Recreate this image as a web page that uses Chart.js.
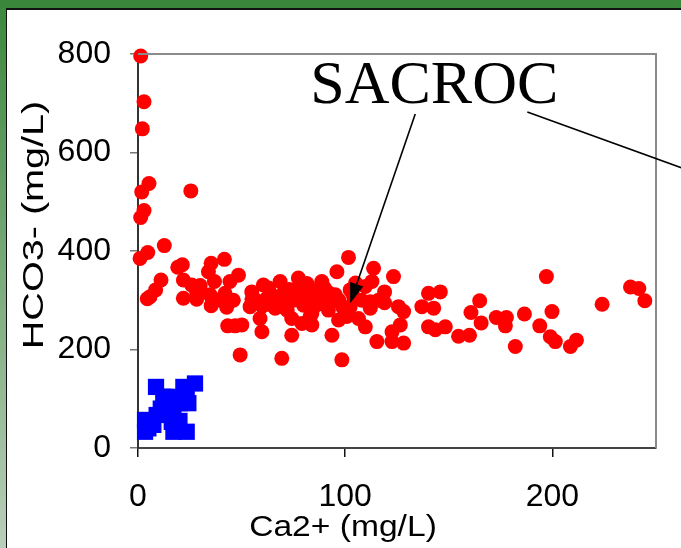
<!DOCTYPE html>
<html>
<head>
<meta charset="utf-8">
<script src="https://cdn.jsdelivr.net/npm/chart.js@4/dist/chart.umd.min.js"></script>
<style>
  html, body { margin: 0; padding: 0; }
  body {
    width: 681px; height: 548px; overflow: hidden; position: relative;
    background: linear-gradient(#3a873c, #b9ceb9);
  }
  #topband { position: absolute; left: 0; top: 0; width: 681px; height: 8px; background: #3a873c; }
  #panel {
    position: absolute; left: 6px; top: 8px; right: 0; bottom: 0;
    background: #fff; border-top: 2px solid #111; border-left: 1px solid #111;
  }
  #grafico { position: absolute; left: 0; top: 0; }
</style>
</head>
<body>
<div id="topband"></div>
<div id="panel"></div>
<canvas id="grafico" width="681" height="548"></canvas>
<script>
// SACROC produced water: Ca2+ vs HCO3- (mg/L)
const sacrocCa = [
  1.3, 2.9, 2.1, 5.3, 1.8, 25.5, 2.9, 1.3, 12.7, 4.7, 1,
  19.2, 21.4, 35.3, 41.7, 34, 11.1, 8.5, 4.5, 21.9, 25.9, 28.3,
  21.9, 28.3, 34.8, 36.9, 35.3, 42.8, 42, 44.4, 48.5, 43.3, 46.9, 49.3,
  101.6, 54.9, 60.5, 68.6, 77.4, 81.5, 88.7, 96, 95.2, 54.1, 62.2,
  66.2, 71, 76.7, 79.9, 87.9, 89.5, 74.2, 79.1, 83.9, 58.9, 50.1,
  59.8, 74.2, 93.6, 96.8, 69.4, 98.4, 85.5, 83.9,
  113.7, 123.3, 112.9, 109.7, 119, 102.4, 112.1, 112.1, 106.4, 109.7,
  100.8, 125.7, 128.2, 126.6, 122.6, 115.3, 122.6, 128.2,
  140.2, 145.9, 137, 142.7, 140.2, 143.5, 148.3, 154.7, 160, 160.7,
  164.9, 165.6, 172.9, 177.8, 177.3, 182.1, 186.5, 193.9, 197.1, 199.8,
  199, 201.4, 208.7, 211.6, 224, 237.7, 241.7, 244.6,
  64.6, 69.4, 86.3, 91.9, 83.1, 70.2, 63.9, 102.4, 5.8,
  57, 63, 67, 73, 75, 78, 82, 86, 90, 93, 97, 99, 104, 108,
  116, 119, 105, 72, 80, 92, 60, 55, 46, 38, 30
];
const sacrocHco3 = [
  796, 703, 648, 537, 520, 522, 482, 468, 411, 397, 385,
  367, 372, 375, 383, 358, 341, 321, 303, 341, 331, 317,
  304, 302, 311, 338, 289, 286, 314, 338, 351, 248, 248, 189,
  387, 317, 331, 338, 345, 334, 338, 358, 311, 287, 304,
  284, 297, 314, 290, 297, 311, 263, 253, 250, 263, 250,
  236, 229, 229, 260, 182, 179, 321, 273,
  365, 348, 338, 328, 317, 321, 297, 284, 263, 246,
  267, 287, 277, 250, 236, 216, 216, 213,
  314, 317, 287, 284, 246, 240, 246, 227, 229, 275,
  299, 254, 265, 265, 248, 206, 272, 248, 348, 277,
  226, 216, 206, 219, 292, 327, 324, 299,
  290, 287, 304, 280, 267, 314, 314, 287, 307,
  300, 325, 305, 322, 300, 330, 318, 290, 325, 295, 300, 285, 308, 300,
  300, 295, 335, 280, 305, 315, 288, 302, 300, 300, 330
];

// second group (blue squares)
const otroCa = [8.7, 27.5, 21.9, 3.4, 3.4, 9, 12.2, 17.1, 23.5, 17.1, 20.3, 24.3, 23.5, 13.9, 7.4, 16.3, 15.5, 5, 20, 11];
const otroHco3 = [124, 131, 124, 33, 57, 67, 104, 33, 33, 70, 91, 91, 111, 91, 47, 53, 104, 40, 55, 80];

const xTicks = [0, 100, 200];
const yTicks = [0, 200, 400, 600, 800];

const tituloX = "Ca2+ (mg/L)";
const tituloY = "HCO3- (mg/L)";
const etiqueta = "SACROC";

// callout: text anchor, arrow to the cluster, second leader line (data units)
const etiquetaPos = { x: 83.1, y: 700 };
const flecha = { x1: 133.8, y1: 678, x2: 102.4, y2: 294 };
const linea2 = { x1: 187.9, y1: 682, x2: 265, y2: 565 };

const toXY = (xs, ys) => xs.map((x, i) => ({ x: x, y: ys[i] }));

const fuente = "'Liberation Sans', Arial, sans-serif";

const decoracion = {
  id: "decoracion",
  afterDraw(chart) {
    const ctx = chart.ctx;
    const a = chart.chartArea;
    const sx = chart.scales.x, sy = chart.scales.y;
    ctx.save();

    // top and right frame of the plot
    ctx.strokeStyle = "#8a8a8a";
    ctx.lineWidth = 2;
    ctx.beginPath();
    ctx.moveTo(a.left, a.top);
    ctx.lineTo(a.right, a.top);
    ctx.lineTo(a.right, a.bottom);
    ctx.stroke();

    // axis titles
    ctx.fillStyle = "#000";
    ctx.font = "30px " + fuente;
    ctx.textAlign = "center";
    ctx.textBaseline = "alphabetic";
    ctx.save();
    ctx.translate(343, 536);
    ctx.scale(1.12, 1);
    ctx.fillText(tituloX, 0, 0);
    ctx.restore();

    ctx.save();
    ctx.translate(43, 225);
    ctx.rotate(-Math.PI / 2);
    ctx.scale(1.32, 1);
    ctx.fillText(tituloY, 0, 0);
    ctx.restore();

    // SACROC callout
    ctx.font = "62px 'Liberation Serif', 'Times New Roman', serif";
    ctx.textAlign = "left";
    ctx.fillText(etiqueta, sx.getPixelForValue(etiquetaPos.x), sy.getPixelForValue(etiquetaPos.y));

    ctx.strokeStyle = "#000";
    ctx.lineWidth = 1.6;
    const ax1 = sx.getPixelForValue(flecha.x1), ay1 = sy.getPixelForValue(flecha.y1);
    const ax2 = sx.getPixelForValue(flecha.x2), ay2 = sy.getPixelForValue(flecha.y2);
    const ang = Math.atan2(ay2 - ay1, ax2 - ax1);
    const largo = 20, ancho = 7;
    const bx = ax2 - largo * Math.cos(ang), by = ay2 - largo * Math.sin(ang);
    ctx.beginPath();
    ctx.moveTo(ax1, ay1);
    ctx.lineTo(bx, by);
    ctx.stroke();
    ctx.fillStyle = "#000";
    ctx.beginPath();
    ctx.moveTo(ax2, ay2);
    ctx.lineTo(bx + ancho * Math.sin(ang), by - ancho * Math.cos(ang));
    ctx.lineTo(bx - ancho * Math.sin(ang), by + ancho * Math.cos(ang));
    ctx.closePath();
    ctx.fill();

    ctx.beginPath();
    ctx.moveTo(sx.getPixelForValue(linea2.x1), sy.getPixelForValue(linea2.y1));
    ctx.lineTo(sx.getPixelForValue(linea2.x2), sy.getPixelForValue(linea2.y2));
    ctx.stroke();

    ctx.restore();
  }
};

const chart = new Chart(document.getElementById("grafico"), {
  type: "scatter",
  data: {
    datasets: [
      {
        label: "SACROC",
        data: toXY(sacrocCa, sacrocHco3),
        backgroundColor: "#ff0000",
        borderWidth: 0,
        pointRadius: 7.5,
        pointHoverRadius: 7.5,
        clip: false
      },
      {
        label: "otro",
        data: toXY(otroCa, otroHco3),
        backgroundColor: "#0000ff",
        borderWidth: 0,
        pointStyle: "rect",
        pointRadius: 11.5,
        pointHoverRadius: 11.5,
        clip: false
      }
    ]
  },
  options: {
    responsive: false,
    animation: false,
    events: [],
    layout: { padding: { left: 0, top: 54, right: 25, bottom: 0 } },
    plugins: { legend: { display: false }, tooltip: { enabled: false } },
    scales: {
      x: {
        type: "linear",
        min: 0,
        max: 250,
        afterFit: (s) => { s.height = 100; },
        afterBuildTicks: (s) => { s.ticks = xTicks.map((v) => ({ value: v })); },
        grid: { drawOnChartArea: false, drawTicks: true, tickLength: 9, color: "#111", lineWidth: 1.5 },
        border: { color: "#444", width: 2 },
        ticks: { color: "#000", padding: 21, font: { size: 32, family: fuente }, maxRotation: 0 }
      },
      y: {
        type: "linear",
        min: 0,
        max: 800,
        afterFit: (s) => { s.width = 138; },
        afterBuildTicks: (s) => { s.ticks = yTicks.map((v) => ({ value: v })); },
        grid: { drawOnChartArea: false, drawTicks: true, tickLength: 8, color: "#777", lineWidth: 1.5 },
        border: { color: "#333", width: 2 },
        ticks: { color: "#000", padding: 19, font: { size: 32, family: fuente } }
      }
    }
  },
  plugins: [decoracion]
});
</script>
</body>
</html>
